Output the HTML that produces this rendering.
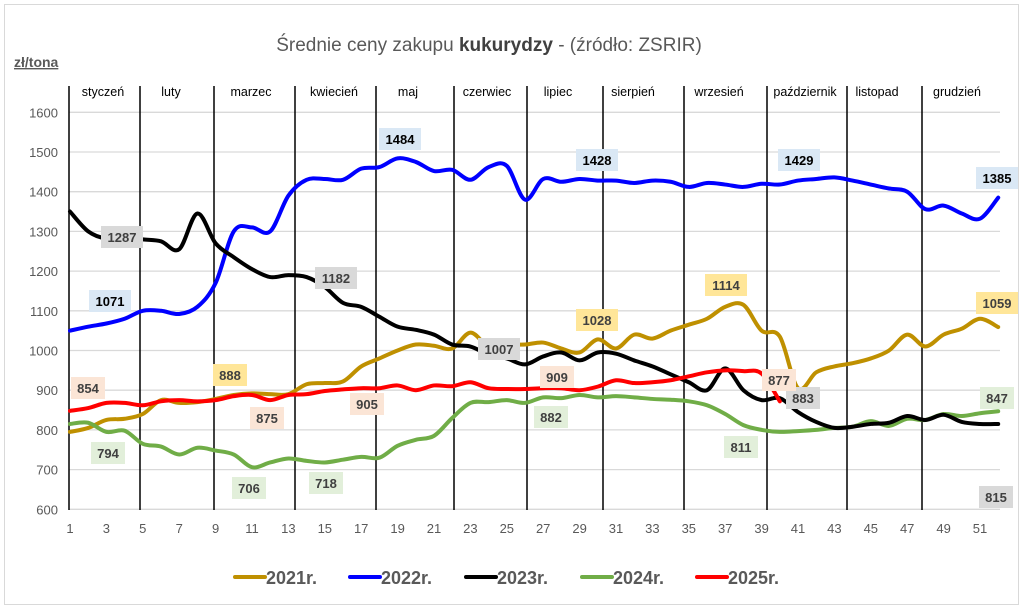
<!DOCTYPE html>
<html><head><meta charset="utf-8"><style>
html,body{margin:0;padding:0;background:#fff;}
svg{display:block;font-family:"Liberation Sans",sans-serif;}
</style></head><body>
<svg id="s" width="1024" height="611" viewBox="0 0 1024 611" xmlns="http://www.w3.org/2000/svg">
<rect x="4.5" y="4.5" width="1014" height="600" fill="#fff" stroke="#d9d9d9"/>
<text x="489" y="51" text-anchor="middle" font-size="19" fill="#595959">Średnie ceny zakupu <tspan font-weight="bold" fill="#404040">kukurydzy</tspan> - (źródło: ZSRIR)</text>
<text x="14" y="67" font-size="14" font-weight="bold" fill="#595959" text-decoration="underline">zł/tona</text>
<g id="grid"></g>
<g id="lines"></g>
<g id="labels"></g>
<g font-size="18" font-weight="bold" fill="#595959">
<line x1="235" y1="577" x2="265" y2="577" stroke="#bf9000" stroke-width="4" stroke-linecap="round"/><text x="266" y="584">2021r.</text>
<line x1="350" y1="577" x2="380" y2="577" stroke="#0000ff" stroke-width="4" stroke-linecap="round"/><text x="381" y="584">2022r.</text>
<line x1="466" y1="577" x2="496" y2="577" stroke="#000" stroke-width="4" stroke-linecap="round"/><text x="497" y="584">2023r.</text>
<line x1="582" y1="577" x2="612" y2="577" stroke="#70ad47" stroke-width="4" stroke-linecap="round"/><text x="613" y="584">2024r.</text>
<line x1="697" y1="577" x2="727" y2="577" stroke="#ff0000" stroke-width="4" stroke-linecap="round"/><text x="728" y="584">2025r.</text>
</g>
</svg>
<script>
var NS="http://www.w3.org/2000/svg";
function X(w){return 70+(w-1)*18.2;}
function Y(v){return 509.3-(v-600)*0.397;}
function el(p,t,a,txt){var e=document.createElementNS(NS,t);for(var k in a)e.setAttribute(k,a[k]);if(txt!==undefined)e.textContent=txt;p.appendChild(e);return e;}
var g=document.getElementById('grid');
for(var v=600;v<=1600;v+=100){
 if(v>600)el(g,'line',{x1:69,x2:1000,y1:Y(v),y2:Y(v),stroke:'#d9d9d9','stroke-width':1.3});
 el(g,'text',{x:58,y:Y(v)+5,'text-anchor':'end','font-size':13,fill:'#595959'},v);
}
el(g,'line',{x1:69,x2:1000,y1:Y(600),y2:Y(600),stroke:'#d9d9d9','stroke-width':1.3});
for(var w=1;w<=51;w+=2)el(g,'text',{x:X(w),y:533,'text-anchor':'middle','font-size':13,fill:'#595959'},w);
var mx=[69,140,214,295,376,454,527,603,684,767,847,922];
var mn=['styczeń','luty','marzec','kwiecień','maj','czerwiec','lipiec','sierpień','wrzesień','październik','listopad','grudzień'];
var mlx=[103,171,251,334,408,487,558,633,719,805,877,957];
for(var i=0;i<12;i++){
 el(g,'line',{x1:mx[i],x2:mx[i],y1:86,y2:510,stroke:'#000','stroke-width':1.5});
 el(g,'text',{x:mlx[i],y:96,'text-anchor':'middle','font-size':12.5,fill:'#000'},mn[i]);
}
var D={
'#0000ff':[1050,1060,1068,1080,1100,1100,1092,1110,1170,1300,1310,1300,1390,1430,1432,1430,1458,1462,1484,1475,1452,1455,1430,1462,1465,1380,1432,1425,1432,1428,1428,1422,1428,1425,1412,1422,1418,1412,1420,1418,1428,1432,1436,1428,1418,1408,1400,1356,1365,1345,1332,1385],
'#000000':[1350,1300,1282,1287,1280,1275,1255,1345,1270,1235,1205,1185,1190,1185,1160,1120,1110,1085,1060,1052,1040,1015,1010,990,980,965,985,995,975,995,992,975,960,940,920,900,955,900,875,880,845,820,805,808,815,818,835,825,838,820,815,815],
'#bf9000':[795,805,825,828,840,875,868,870,878,888,892,890,890,915,918,922,960,980,1000,1015,1012,1005,1045,1010,1015,1015,1020,1005,995,1028,1005,1040,1030,1050,1065,1080,1110,1115,1050,1035,905,945,960,968,980,1000,1040,1010,1040,1055,1080,1059],
'#70ad47':[815,818,795,798,765,758,738,755,748,738,706,718,728,722,718,725,732,730,760,775,785,830,868,870,875,868,882,880,888,882,885,882,878,876,872,862,840,812,800,795,797,800,805,808,822,810,828,825,840,835,842,847],
'#ff0000':[848,855,868,868,862,872,875,872,875,885,888,875,888,890,898,902,905,905,912,900,912,910,920,905,903,903,905,905,900,909,925,918,920,925,935,945,950,948,942,872]
};
var L=document.getElementById('lines');
var order=['#bf9000','#70ad47','#0000ff','#000000','#ff0000'];
order.forEach(function(c){
 var a=D[c],p=a.map(function(v,i){return [X(i+1),Y(v)];});
 var d='M'+p[0][0]+','+p[0][1];
 for(var i=0;i<p.length-1;i++){
  var p0=p[i-1]||p[i],p1=p[i],p2=p[i+1],p3=p[i+2]||p2;
  var c1x=p1[0]+(p2[0]-p0[0])/6,c1y=p1[1]+(p2[1]-p0[1])/6,c2x=p2[0]-(p3[0]-p1[0])/6,c2y=p2[1]-(p3[1]-p1[1])/6;
  d+=' C'+c1x+','+c1y+' '+c2x+','+c2y+' '+p2[0]+','+p2[1];
 }
 el(L,'path',{d:d,fill:'none',stroke:c,'stroke-width':4,'stroke-linejoin':'round','stroke-linecap':'round'});
});
var lab=[
['1071',110,301,'#dae8f5','#000'],['1484',400,139,'#dae8f5','#000'],['1428',597,160,'#dae8f5','#000'],['1429',799,160,'#dae8f5','#000'],['1385',997,178,'#dae8f5','#000'],
['1287',122,237,'#d9d9d9','#404040'],['1182',336,278,'#d9d9d9','#404040'],['1007',499,349,'#d9d9d9','#404040'],['883',803,398,'#d9d9d9','#404040'],['815',996,497,'#d9d9d9','#404040'],
['888',230,375,'#ffe699','#404040'],['1028',597,320,'#ffe699','#404040'],['1114',726,285,'#ffe699','#404040'],['1059',997,303,'#ffe699','#404040'],
['854',88,388,'#fbe5d6','#404040'],['875',267,418,'#fbe5d6','#404040'],['905',367,404,'#fbe5d6','#404040'],['909',557,377,'#fbe5d6','#404040'],['877',779,380,'#fbe5d6','#404040'],
['794',108,453,'#e2efda','#404040'],['706',249,488,'#e2efda','#404040'],['718',326,483,'#e2efda','#404040'],['882',551,417,'#e2efda','#404040'],['811',741,447,'#e2efda','#404040'],['847',997,398,'#e2efda','#404040']
];
var LB=document.getElementById('labels');
lab.forEach(function(l){
 var w=l[0].length*8+10;
 el(LB,'rect',{x:l[1]-w/2,y:l[2]-11,width:w,height:22,fill:l[3]});
 el(LB,'text',{x:l[1],y:l[2]+5,'text-anchor':'middle','font-size':13,'font-weight':'bold',fill:l[4]},l[0]);
});
</script>
</body></html>
